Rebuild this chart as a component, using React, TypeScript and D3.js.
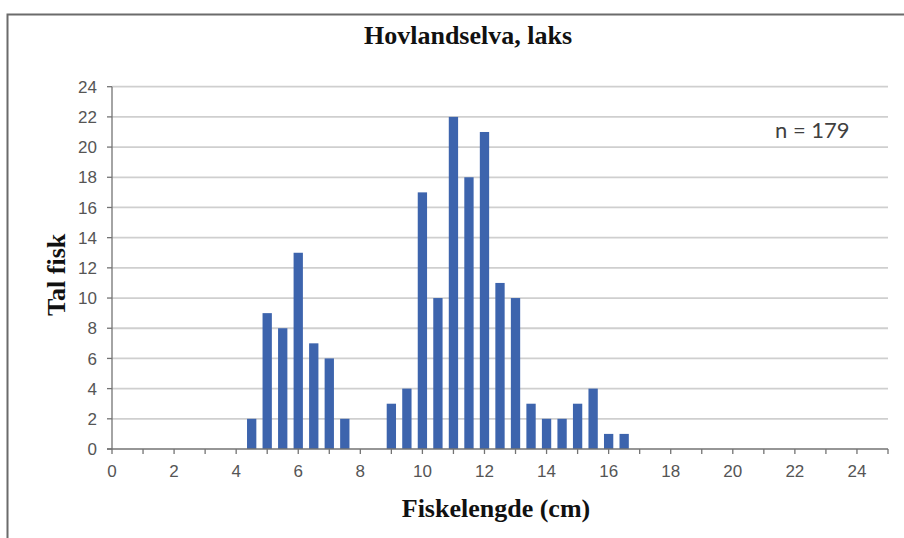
import * as d3 from "d3";

// ── Data ──────────────────────────────────────────────────
const lengths = [4.5, 5, 5.5, 6, 6.5, 7, 7.5, 9, 9.5, 10, 10.5, 11, 11.5, 12, 12.5, 13, 13.5, 14, 14.5, 15, 15.5, 16, 16.5];
const counts  = [2, 9, 8, 13, 7, 6, 2, 3, 4, 17, 10, 22, 18, 21, 11, 10, 3, 2, 2, 3, 4, 1, 1];
const yTicks  = [0, 2, 4, 6, 8, 10, 12, 14, 16, 18, 20, 22, 24];
const xLabels = [0, 2, 4, 6, 8, 10, 12, 14, 16, 18, 20, 22, 24];
const xMinor  = d3.range(0, 26);

const title  = "Hovlandselva, laks";
const xTitle = "Fiskelengde (cm)";
const yTitle = "Tal fisk";
const note   = "n = 179";

// ── Layout ────────────────────────────────────────────────
const W = 904;
const H = 538;
const plot = { left: 112, right: 888, top: 86.7, bottom: 449 };

const x = d3.scaleLinear().domain([0, 25]).range([plot.left, plot.right]);
const y = d3.scaleLinear().domain([0, 24]).range([plot.bottom, plot.top]);

const BAR_W   = x(0.3) - x(0);
const BLUE    = "#3d64ad";
const GRID    = "#cfcfcf";
const AXIS    = "#737373";
const LABEL   = "#555555";
const sans    = "'Liberation Sans', Arial, sans-serif";
const serif   = "'Liberation Serif', 'Times New Roman', serif";

export default function App() {
  return (
    <svg width={W} height={H} viewBox={`0 0 ${W} ${H}`}
      style={{ position: "absolute", left: 0, top: 0, background: "#fff" }}>
      {/* frame */}
      <path d={`M7.5,${H} V14.5 H${W}`} fill="none" stroke="#6b6b6b" strokeWidth={2} />

      <text x={468} y={44} textAnchor="middle" fontFamily={serif}
        fontWeight={700} fontSize={26} fill="#111">{title}</text>

      {/* gridlines */}
      {yTicks.filter(t => t > 0).map(t => (
        <line key={t} x1={plot.left} x2={plot.right} y1={y(t)} y2={y(t)}
          stroke={GRID} strokeWidth={1.8} />
      ))}

      {/* bars */}
      {lengths.map((l, i) => (
        <rect key={l} x={x(l) - BAR_W / 2} y={y(counts[i])}
          width={BAR_W} height={y(0) - y(counts[i])} fill={BLUE} />
      ))}

      {/* y axis */}
      <line x1={plot.left} x2={plot.left} y1={plot.top} y2={plot.bottom}
        stroke={AXIS} strokeWidth={1.3} />
      {yTicks.map(t => (
        <g key={t}>
          <line x1={plot.left - 5} x2={plot.left} y1={y(t)} y2={y(t)}
            stroke={AXIS} strokeWidth={1.3} />
          <text x={plot.left - 15} y={y(t)} dy="0.36em" textAnchor="end"
            fontFamily={sans} fontSize={17} fill={LABEL}>{t}</text>
        </g>
      ))}

      {/* x axis */}
      <line x1={plot.left - 5} x2={plot.right} y1={plot.bottom} y2={plot.bottom}
        stroke={AXIS} strokeWidth={1.3} />
      {xMinor.map(t => (
        <line key={t} x1={x(t)} x2={x(t)} y1={plot.bottom} y2={plot.bottom + 5}
          stroke={AXIS} strokeWidth={1.3} />
      ))}
      {xLabels.map(t => (
        <text key={t} x={x(t)} y={477} textAnchor="middle"
          fontFamily={sans} fontSize={17} fill={LABEL}>{t}</text>
      ))}

      <text x={496} y={517} textAnchor="middle" fontFamily={serif}
        fontWeight={700} fontSize={26} fill="#111">{xTitle}</text>

      <text transform={`translate(65,${(plot.top + plot.bottom) / 2 + 7}) rotate(-90)`}
        textAnchor="middle" fontFamily={serif} fontWeight={700} fontSize={26}
        fill="#111">{yTitle}</text>

      <text x={775} y={138} fontFamily="Lato, 'Open Sans', sans-serif"
        fontSize={22} fill="#404040">{note}</text>
    </svg>
  );
}
